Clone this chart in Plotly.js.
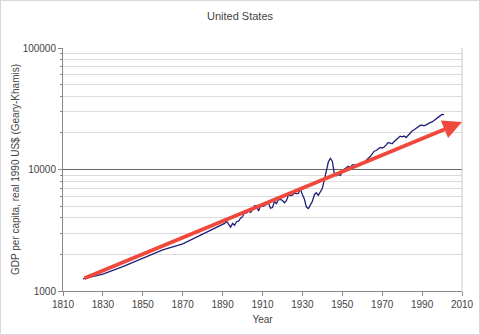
<!DOCTYPE html>
<html><head><meta charset="utf-8">
<script src="https://cdn.plot.ly/plotly-3.0.1.min.js"></script>
<style>html,body{margin:0;padding:0;background:#fff}#chart{width:478px;height:333px;border:1px solid #d8d8d8}</style>
</head><body><div id="chart"></div>
<script>
const years = [1820,1830,1840,1850,1860,1870,1871,1872,1873,1874,1875,1876,1877,1878,1879,
1880,1881,1882,1883,1884,1885,1886,1887,1888,1889,1890,1891,1892,1893,1894,1895,1896,1897,1898,1899,
1900,1901,1902,1903,1904,1905,1906,1907,1908,1909,1910,1911,1912,1913,1914,1915,1916,1917,1918,1919,
1920,1921,1922,1923,1924,1925,1926,1927,1928,1929,1930,1931,1932,1933,1934,1935,1936,1937,1938,1939,
1940,1941,1942,1943,1944,1945,1946,1947,1948,1949,1950,1951,1952,1953,1954,1955,1956,1957,1958,1959,
1960,1961,1962,1963,1964,1965,1966,1967,1968,1969,1970,1971,1972,1973,1974,1975,1976,1977,1978,1979,
1980,1981,1982,1983,1984,1985,1986,1987,1988,1989,1990,1991,1992,1993,1994,1995,1996,1997,1998,1999,
2000,2001];
const gdpPerCapita = [1257,1376,1588,1849,2178,2445,2490,2540,2590,2630,2670,2710,2760,2810,2870,
2930,2990,3050,3110,3170,3230,3290,3350,3410,3470,3530,3600,3750,3500,3350,3600,3476,3717,3760,3981,
4091,4437,4392,4560,4430,4643,5046,5023,4561,5017,4964,5046,5201,5301,4799,4864,5459,5248,5659,5680,
5552,5323,5540,6164,6087,6150,6391,6323,6350,6899,6213,5691,4908,4777,5114,5467,6204,6430,6126,6561,
7010,8206,9741,11518,12333,11709,9197,8886,9065,8944,9561,10116,10316,10613,10359,10897,10914,10920,10631,11230,
11328,11402,11905,12242,12773,13419,14134,14330,14863,15179,15030,15304,15944,16689,16491,16284,16975,17567,18373,18789,
18577,18856,18325,19047,20123,20717,21236,21788,22499,23059,23201,22849,23298,23616,24284,24643,25259,26041,26850,27621,
28403,28242];
const trendYears = [1820, 2010];
const trendValues = [1260, 24600];
const xTicks = [1810,1830,1850,1870,1890,1910,1930,1950,1970,1990,2010];
const yTicks = [1000,10000,100000];

const font = {family:'Liberation Sans, Arial, sans-serif', size:10, color:'#444'};
Plotly.newPlot('chart', [{
  x: years, y: gdpPerCapita, type:'scatter', mode:'lines',
  line:{color:'#1f1f7a', width:1.3}, hoverinfo:'skip'
}], {
  width:478, height:333,
  margin:{l:62, r:17, t:47, b:43},
  paper_bgcolor:'#fff', plot_bgcolor:'#fff',
  showlegend:false,
  font: font,
  title:{text:'United States', font:{family:'Liberation Sans, Arial, sans-serif', size:11, color:'#444'}, x:0.5, xanchor:'center', y:0.955, yanchor:'middle'},
  xaxis:{range:[1810,2010], tickvals:xTicks, ticktext:xTicks.map(String), showgrid:false, zeroline:false,
    showline:true, linecolor:'#888', linewidth:1, ticks:'outside', ticklen:4, tickcolor:'#888',
    tickfont:font, title:{text:'Year', font:font, standoff:6}},
  yaxis:{type:'log', range:[3,5], tickvals:yTicks, ticktext:yTicks.map(String),
    showgrid:true, gridcolor:'#666', gridwidth:1, zeroline:false,
    showline:true, linecolor:'#888', linewidth:1, ticks:'outside', ticklen:4, tickcolor:'#888',
    minor:{dtick:'D1', showgrid:true, gridcolor:'#dcdcdc', gridwidth:1, ticks:'outside', ticklen:2, tickcolor:'#888'},
    tickfont:font, title:{text:'GDP per capita, real 1990 US$ (Geary-Khamis)', font:font, standoff:1}},
  shapes:[{type:'line', xref:'paper', yref:'paper', x0:1, x1:1, y0:0, y1:1, line:{color:'#c8c8c8', width:1}}],
  annotations:[{
    xref:'x', yref:'y', axref:'x', ayref:'y',
    x: trendYears[1], y: Math.log10(trendValues[1]),
    ax: trendYears[0], ay: Math.log10(trendValues[0]),
    text:'', showarrow:true, arrowhead:2, arrowsize:1.0, arrowwidth:3.8, arrowcolor:'#f0493b'
  }]
}, {staticPlot:true});
</script></body></html>
